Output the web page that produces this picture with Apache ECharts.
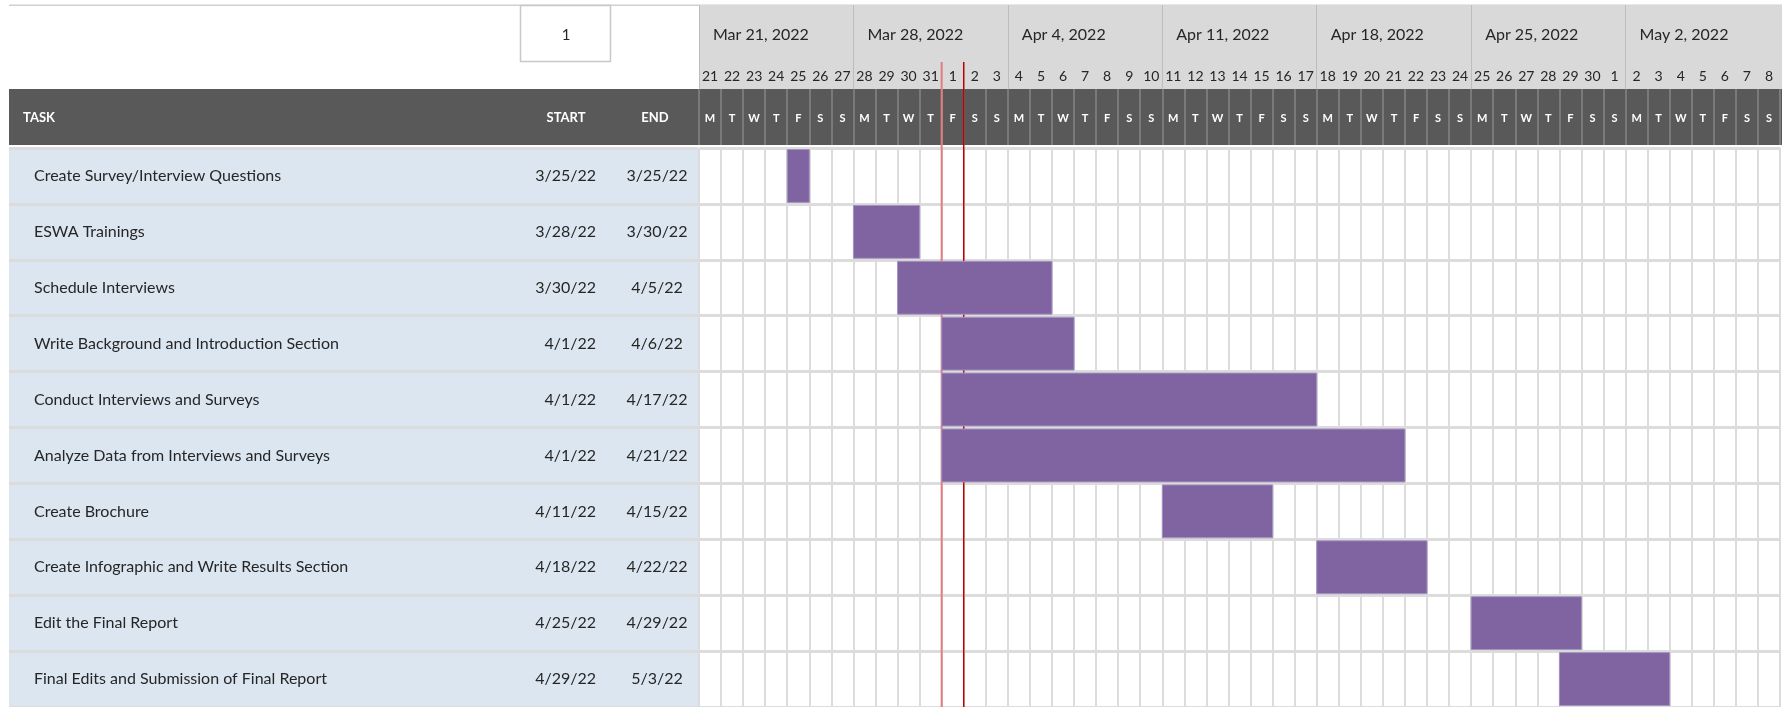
<!DOCTYPE html>
<html>
<head>
<meta charset="utf-8">
<script src="https://cdn.jsdelivr.net/npm/echarts@6/dist/echarts.min.js"></script>
<style>
  html, body { margin: 0; padding: 0; background: #fff; }
  #chart { width: 1782px; height: 707px; }
</style>
</head>
<body>
<div id="chart"></div>
<script>
// 数据
const chartStart = '2022-03-21';
const dayCount = 49;
const displayWeek = '1';
const today = '2022-04-01';

const weekLabels = ['Mar 21, 2022', 'Mar 28, 2022', 'Apr 4, 2022', 'Apr 11, 2022', 'Apr 18, 2022', 'Apr 25, 2022', 'May 2, 2022'];
const dayNumbers = [
  21, 22, 23, 24, 25, 26, 27, 28, 29, 30, 31, 1, 2, 3,
  4, 5, 6, 7, 8, 9, 10, 11, 12, 13, 14, 15, 16, 17,
  18, 19, 20, 21, 22, 23, 24, 25, 26, 27, 28, 29, 30, 1,
  2, 3, 4, 5, 6, 7, 8
];
const dayLetters = [
  'M', 'T', 'W', 'T', 'F', 'S', 'S', 'M', 'T', 'W', 'T', 'F', 'S', 'S',
  'M', 'T', 'W', 'T', 'F', 'S', 'S', 'M', 'T', 'W', 'T', 'F', 'S', 'S',
  'M', 'T', 'W', 'T', 'F', 'S', 'S', 'M', 'T', 'W', 'T', 'F', 'S', 'S',
  'M', 'T', 'W', 'T', 'F', 'S', 'S'
];

const tasks = [
  'Create Survey/Interview Questions',
  'ESWA Trainings',
  'Schedule Interviews',
  'Write Background and Introduction Section',
  'Conduct Interviews and Surveys',
  'Analyze Data from Interviews and Surveys',
  'Create Brochure',
  'Create Infographic and Write Results Section',
  'Edit the Final Report',
  'Final Edits and Submission of Final Report'
];
const startDates = ['2022-03-25', '2022-03-28', '2022-03-30', '2022-04-01', '2022-04-01', '2022-04-01', '2022-04-11', '2022-04-18', '2022-04-25', '2022-04-29'];
const endDates = ['2022-03-25', '2022-03-30', '2022-04-05', '2022-04-06', '2022-04-17', '2022-04-21', '2022-04-15', '2022-04-22', '2022-04-29', '2022-05-03'];

// 工具函数
function dayIndex(iso) {
  return (Date.parse(iso) - Date.parse(chartStart)) / 86400000;
}
function fmtDate(iso) {
  const d = new Date(iso + 'T00:00:00Z');
  return (d.getUTCMonth() + 1) + '/' + d.getUTCDate() + '/' + String(d.getUTCFullYear()).slice(2);
}

const barData = tasks.map((t, i) => [i, dayIndex(startDates[i]), dayIndex(endDates[i]) + 1]);

const FONT = 'Lato, "Open Sans", sans-serif';
const TEXT = '#262626';
const GRID_LINE = '#dcdcdc';

function renderBar(params, api) {
  const row = api.value(0);
  const p0 = api.coord([api.value(1), row]);
  const p1 = api.coord([api.value(2), row]);
  const h = api.size([0, 1])[1];
  return {
    type: 'rect',
    shape: { x: p0[0], y: p0[1] - h / 2 + 1.5, width: p1[0] - p0[0], height: h - 3 },
    style: { fill: '#8064a2', stroke: '#a493c0', lineWidth: 1 }
  };
}

function renderToday(params, api) {
  const x0 = api.coord([api.value(0), 0])[0];
  const x1 = api.coord([api.value(0) + 1, 0])[0];
  const top = params.coordSys.y - 86;
  const bottom = params.coordSys.y + params.coordSys.height;
  return {
    type: 'group',
    children: [
      { type: 'line', shape: { x1: x0, y1: top, x2: x0, y2: bottom }, style: { stroke: '#e47c7e', lineWidth: 2 } },
      { type: 'line', shape: { x1: x1, y1: top, x2: x1, y2: bottom }, style: { stroke: '#c00000', lineWidth: 1.5 } }
    ]
  };
}

const hiddenAxis = {
  axisLine: { show: false },
  axisTick: { show: false },
  splitLine: { show: false }
};

const option = {
  animation: false,
  backgroundColor: '#fff',
  textStyle: { fontFamily: FONT },
  graphic: [
    { type: 'rect', z: -1, shape: { x: 9, y: 4.5, width: 1773, height: 1.5 }, style: { fill: '#d0d0d0' } },
    { type: 'rect', z: -1, shape: { x: 699, y: 5, width: 1083, height: 84 }, style: { fill: '#d9d9d9' } },
    { type: 'rect', z: -1, shape: { x: 9, y: 89, width: 1773, height: 56 }, style: { fill: '#595959' } },
    { type: 'rect', z: -1, shape: { x: 520.5, y: 5.5, width: 90, height: 56 }, style: { fill: '#fff', stroke: '#c8c8c8', lineWidth: 1.5 } },
    { type: 'text', z: 5, x: 566, y: 35, style: { text: displayWeek, fill: TEXT, font: '15px ' + FONT, align: 'center', verticalAlign: 'middle' } },
    { type: 'text', z: 5, x: 23, y: 118, style: { text: 'TASK', fill: '#fff', font: 'bold 13px ' + FONT, align: 'left', verticalAlign: 'middle' } },
    { type: 'text', z: 5, x: 566, y: 118, style: { text: 'START', fill: '#fff', font: 'bold 13px ' + FONT, align: 'center', verticalAlign: 'middle' } },
    { type: 'text', z: 5, x: 655, y: 118, style: { text: 'END', fill: '#fff', font: 'bold 13px ' + FONT, align: 'center', verticalAlign: 'middle' } }
  ],
  grid: [
    { left: 9, top: 148, width: 689, height: 563 },   // 左侧任务表
    { left: 699, top: 148, width: 1081, height: 563 } // 甘特区
  ],
  xAxis: [
    { gridIndex: 0, type: 'value', min: 0, max: 1, show: false },
    {
      gridIndex: 1, type: 'value', min: 0, max: dayCount, interval: 1,
      axisLine: { show: false }, axisTick: { show: false }, axisLabel: { show: false },
      splitLine: { show: true, lineStyle: { color: GRID_LINE, width: 2 } }
    },
    {
      // 星期字母
      gridIndex: 1, type: 'category', position: 'top', offset: 3, data: dayLetters,
      axisLine: { show: false, onZero: false },
      axisTick: { show: true, interval: 0, length: 56, lineStyle: { color: '#7a7a7a', width: 2 } },
      axisLabel: { interval: 0, color: '#fff', fontWeight: 'bold', fontSize: 11, margin: 27, verticalAlign: 'middle' },
      splitLine: { show: false }
    },
    {
      // 日期数字
      gridIndex: 1, type: 'category', position: 'top', offset: 59, data: dayNumbers,
      axisLine: { show: false, onZero: false },
      axisTick: { show: false },
      axisLabel: { interval: 0, color: TEXT, fontSize: 14, margin: 13, verticalAlign: 'middle' },
      splitLine: { show: false }
    },
    {
      // 周标签
      gridIndex: 1, type: 'value', position: 'top', offset: 59, min: 0, max: dayCount, interval: 7,
      axisLine: { show: false, onZero: false },
      axisTick: { show: true, length: 84, lineStyle: { color: '#bdbdbd', width: 1 } },
      axisLabel: {
        color: TEXT, fontSize: 16, margin: 54, align: 'left', verticalAlign: 'middle', padding: [0, 0, 0, 14],
        showMaxLabel: false,
        formatter: v => weekLabels[v / 7] || ''
      },
      splitLine: { show: false }
    }
  ],
  yAxis: [
    {
      gridIndex: 0, type: 'category', inverse: true, data: tasks,
      axisLine: { show: false, onZero: false }, axisTick: { show: false },
      axisLabel: { inside: true, align: 'left', margin: 25, fontSize: 16, color: TEXT },
      splitLine: { show: true, lineStyle: { color: GRID_LINE, width: 3 } },
      splitArea: { show: true, areaStyle: { color: ['#dce6f1'] } }
    },
    {
      gridIndex: 0, type: 'category', inverse: true, position: 'left', data: tasks, ...hiddenAxis,
      axisLine: { show: false, onZero: false },
      axisLabel: { inside: true, align: 'right', margin: 587, fontSize: 16, color: TEXT, formatter: (v, i) => fmtDate(startDates[i]) }
    },
    {
      gridIndex: 0, type: 'category', inverse: true, position: 'left', data: tasks, ...hiddenAxis,
      axisLine: { show: false, onZero: false },
      axisLabel: { inside: true, align: 'center', margin: 648, fontSize: 16, color: TEXT, formatter: (v, i) => fmtDate(endDates[i]) }
    },
    {
      gridIndex: 1, type: 'category', inverse: true, data: tasks,
      axisLine: { show: false, onZero: false }, axisTick: { show: false }, axisLabel: { show: false },
      splitLine: { show: true, lineStyle: { color: GRID_LINE, width: 3 } }
    }
  ],
  series: [
    {
      name: 'today',
      type: 'custom',
      xAxisIndex: 1,
      yAxisIndex: 3,
      z: 1,
      silent: true,
      renderItem: renderToday,
      encode: { x: 0, y: 1 },
      data: [[dayIndex(today), 0]]
    },
    {
      name: 'tasks',
      type: 'custom',
      xAxisIndex: 1,
      yAxisIndex: 3,
      z: 3,
      renderItem: renderBar,
      encode: { x: [1, 2], y: 0 },
      data: barData
    }
  ]
};

const chart = echarts.init(document.getElementById('chart'));
chart.setOption(option);
</script>
</body>
</html>
